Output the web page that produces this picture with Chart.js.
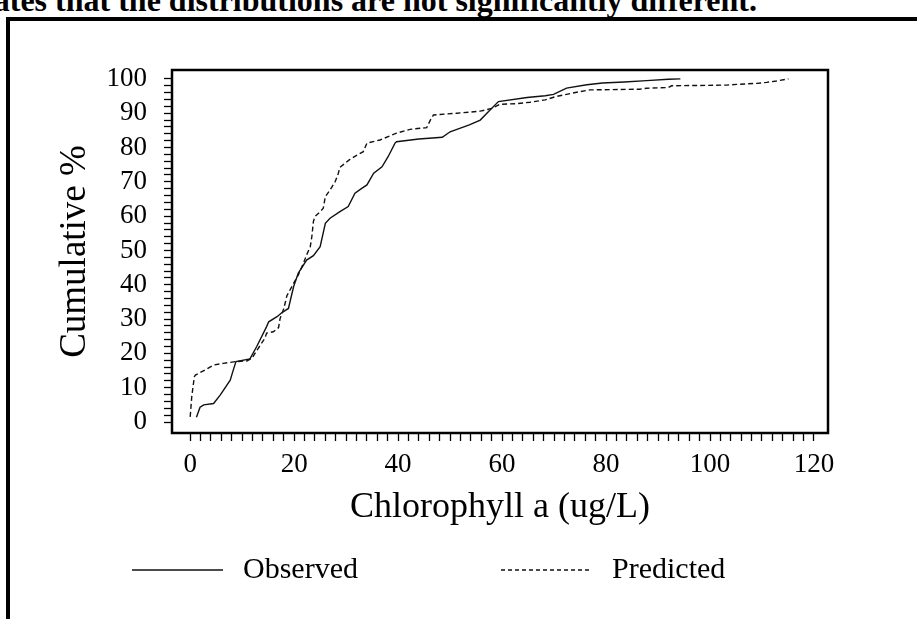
<!DOCTYPE html>
<html>
<head>
<meta charset="utf-8">
<script src="https://cdn.jsdelivr.net/npm/chart.js@4.4.0/dist/chart.umd.min.js"></script>
<style>
body { margin: 0; background: #fff; width: 917px; height: 619px; overflow: hidden; position: relative; }
#caption { position: absolute; right: 160px; top: -16px; font: bold 32px "Liberation Serif", serif; line-height: 32px; white-space: nowrap; }
#frame { position: absolute; left: 6px; top: 17px; width: 1000px; height: 1000px; border-left: 4px solid #000; border-top: 4px solid #000; }
#mycanvas { position: absolute; left: 0; top: 0; }
</style>
</head>
<body>
<div id="caption">ates that the distributions are not significantly different.</div>
<div id="frame"></div>
<canvas id="mycanvas" width="917" height="619"></canvas>
<script>
// observed cumulative distribution (chlorophyll a, cumulative %)
var obsX = [1.2, 1.9, 2.6, 4.5, 5.8, 7.7, 8.3, 8.8, 11.5, 12.8, 14.7, 15.1, 16.7, 17.5, 18.9, 19.9, 20.8, 22.4, 23.7, 25.0,
            26.0, 26.9, 28.8, 30.4, 31.7, 33.0, 34.0, 35.3, 36.9, 38.1, 39.4, 39.7, 44.0, 48.5, 50.0, 53.7, 55.8, 57.4, 59.3, 64.8,
            68.3, 69.9, 72.4, 76.3, 79.3, 83.5, 87.8, 92.0, 94.3];
var obsY = [1.4, 4.3, 5.0, 5.4, 7.9, 12.2, 15.2, 17.6, 18.4, 22.0, 27.8, 29.2, 30.7, 31.7, 33.1, 39.5, 43.4, 47.2, 48.5, 51.1,
            57.9, 59.4, 61.3, 62.8, 66.7, 68.1, 69.1, 72.5, 74.4, 77.4, 81.3, 81.7, 82.5, 83.0, 84.6, 86.6, 88.0, 90.5, 93.4, 94.6,
            95.1, 95.5, 97.3, 98.3, 98.8, 99.1, 99.5, 99.9, 100];

// predicted cumulative distribution
var predX = [0.0, 0.3, 0.8, 1.0, 2.9, 4.5, 6.4, 8.7, 10.9, 11.9, 13.1, 14.4, 14.7, 16.0, 17.0, 17.3, 18.0, 18.6, 19.6, 20.8,
             21.8, 22.4, 23.1, 23.4, 23.7, 24.0, 25.0, 25.6, 26.0, 26.9, 27.9, 28.5, 28.8, 30.6, 32.1, 33.3, 34.0, 36.5, 39.7, 42.3,
             45.5, 46.2, 46.8, 51.3, 55.8, 58.0, 59.6, 62.8, 65.4, 68.3, 70.2, 72.4, 75.0, 76.9, 86.5, 87.8, 92.0, 92.6, 103.2, 105.1,
             109.0, 110.9, 112.8, 115.1];
var predY = [1.5, 7.4, 13.2, 13.7, 15.2, 16.6, 17.1, 17.6, 17.8, 18.6, 21.5, 24.5, 25.9, 26.3, 27.5, 30.2, 33.0, 36.8, 39.6, 42.9,
             46.3, 48.7, 51.1, 54.0, 58.4, 59.9, 61.3, 62.3, 65.7, 67.6, 70.1, 72.5, 74.2, 76.4, 77.8, 78.8, 81.3, 82.2, 84.2, 85.3,
             85.8, 88.0, 89.5, 90.0, 90.6, 91.4, 92.6, 92.8, 93.2, 93.9, 94.8, 95.5, 96.3, 96.8, 97.0, 97.3, 97.5, 98.0, 98.2, 98.4,
             98.7, 99.0, 99.4, 100];

var xLabels = [0, 20, 40, 60, 80, 100, 120];
var yLabels = [0, 10, 20, 30, 40, 50, 60, 70, 80, 90, 100];

// minor tick marks every 2 units
var xTickPos = [];
for (var t = 0; t <= 120; t += 2) xTickPos.push(t);
var yTickPos = [];
for (var t2 = 0; t2 <= 100; t2 += 2) yTickPos.push(t2);

function toPoints(xs, ys) {
    var pts = [];
    for (var i in xs) {
        pts.push({ x: xs[i], y: ys[i] });
    }
    return pts;
}

var serif = '"Liberation Serif", "Times New Roman", serif';

var boxPlugin = {
    id: 'plotBox',
    afterDraw: function (chart) {
        var a = chart.chartArea;
        var ctx = chart.ctx;
        ctx.save();
        ctx.strokeStyle = '#000';
        ctx.lineWidth = 2.5;
        ctx.strokeRect(a.left, a.top, a.right - a.left, a.bottom - a.top);
        ctx.restore();
    }
};

var legendPlugin = {
    id: 'bottomLegend',
    afterDraw: function (chart) {
        var ctx = chart.ctx;
        var startX = [132, 501];
        var y = 570;
        chart.data.datasets.forEach(function (ds, i) {
            ctx.save();
            ctx.strokeStyle = '#111';
            ctx.lineWidth = 1.3;
            ctx.setLineDash(ds.borderDash ? [4, 3] : []);
            ctx.beginPath();
            ctx.moveTo(startX[i], y);
            ctx.lineTo(startX[i] + 91, y);
            ctx.stroke();
            ctx.setLineDash([]);
            ctx.fillStyle = '#000';
            ctx.font = '30px ' + serif;
            ctx.textBaseline = 'middle';
            ctx.fillText(ds.label, startX[i] + 111, y);
            ctx.restore();
        });
    }
};

var chartdata = {
    datasets: [
        {
            label: 'Observed',
            data: toPoints(obsX, obsY),
            borderColor: '#111',
            borderWidth: 1.4,
            pointRadius: 0,
            tension: 0,
            fill: false
        },
        {
            label: 'Predicted',
            data: toPoints(predX, predY),
            borderColor: '#111',
            borderWidth: 1.4,
            borderDash: [5, 3],
            pointRadius: 0,
            tension: 0,
            fill: false
        }
    ]
};

var ctx = document.getElementById('mycanvas');
var lineGraph = new Chart(ctx, {
    type: 'line',
    data: chartdata,
    plugins: [boxPlugin, legendPlugin],
    options: {
        responsive: false,
        animation: false,
        devicePixelRatio: 1,
        layout: { padding: { top: 70, right: 89, bottom: 81, left: 0 } },
        plugins: {
            legend: { display: false },
            tooltip: { enabled: false }
        },
        scales: {
            x: {
                type: 'linear',
                min: -3.5,
                max: 122.7,
                afterBuildTicks: function (axis) {
                    axis.ticks = xTickPos.map(function (v) { return { value: v }; });
                },
                afterFit: function (axis) { axis.height = 105; },
                grid: { drawOnChartArea: false, drawTicks: true, tickLength: 8, tickColor: '#000', tickWidth: 1.3 },
                border: { display: true, color: '#000', width: 2 },
                ticks: {
                    autoSkip: false,
                    maxRotation: 0,
                    padding: 8,
                    color: '#000',
                    font: { family: serif, size: 27 },
                    callback: function (v) { return xLabels.indexOf(v) >= 0 ? String(v) : ''; }
                },
                title: {
                    display: true,
                    text: 'Chlorophyll a (ug/L)',
                    color: '#000',
                    font: { family: serif, size: 36 },
                    padding: { top: 0, bottom: 9 }
                }
            },
            y: {
                type: 'linear',
                min: -3.2,
                max: 102.6,
                afterBuildTicks: function (axis) {
                    axis.ticks = yTickPos.map(function (v) { return { value: v }; });
                },
                afterFit: function (axis) { axis.width = 172; },
                grid: { drawOnChartArea: false, drawTicks: true, tickLength: 8, tickColor: '#000', tickWidth: 1.3 },
                border: { display: true, color: '#000', width: 2 },
                ticks: {
                    autoSkip: false,
                    padding: 17,
                    color: '#000',
                    font: { family: serif, size: 27 },
                    callback: function (v) { return yLabels.indexOf(v) >= 0 ? String(v) : ''; }
                },
                title: {
                    display: true,
                    text: 'Cumulative %',
                    color: '#000',
                    font: { family: serif, size: 37 },
                    padding: { top: 53, bottom: 0 }
                }
            }
        }
    }
});
</script>
</body>
</html>
